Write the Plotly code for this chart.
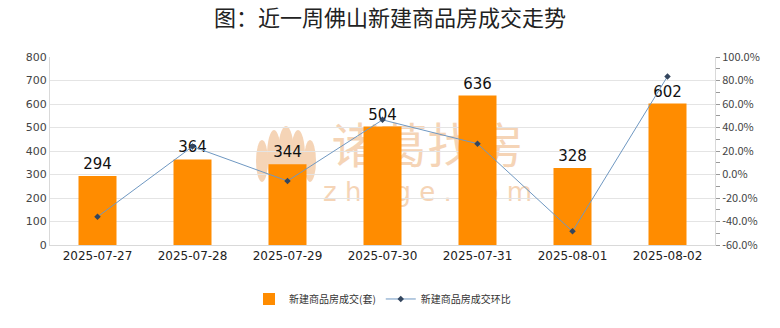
import plotly.graph_objects as go

# Daily new-home sales in Foshan for the last week
dates = ["2025-07-27", "2025-07-28", "2025-07-29", "2025-07-30",
         "2025-07-31", "2025-08-01", "2025-08-02"]
units = [294, 364, 344, 504, 636, 328, 602]
# Day-over-day change, percent
change_pct = [-36.0, 23.8, -5.5, 46.5, 26.2, -48.4, 83.5]

left_ticks = [0, 100, 200, 300, 400, 500, 600, 700, 800]
right_ticks = [-60, -40, -20, 0, 20, 40, 60, 80, 100]
right_labels = [f"{v:.1f}%" for v in right_ticks]

font_cn = "Noto Sans CJK SC, Noto Sans, sans-serif"
W, H = 780, 328
ML, MR, MT, MB = 50, 65, 57, 83
PW, PH = W - ML - MR, H - MT - MB


def px_x(px):
    """Pixel column -> paper x."""
    return (px - ML) / PW


def px_y(py):
    """Pixel row -> paper y."""
    return (H - MB - py) / PH


fig = go.Figure()

fig.add_trace(go.Bar(
    x=dates, y=units, name="新建商品房成交(套)",
    marker=dict(color="#FF8C00", line=dict(width=0)),
    text=[str(v) for v in units], textposition="outside",
    textfont=dict(size=15, color="#111111", family="DejaVu Sans, sans-serif"),
    cliponaxis=False,
    yaxis="y",
))

fig.add_trace(go.Scatter(
    x=dates, y=change_pct, name="新建商品房成交环比",
    mode="lines+markers",
    line=dict(color="#6f98c2", width=1),
    marker=dict(symbol="diamond", size=5, color="#34465e"),
    yaxis="y2",
))

# Brand watermark, kept beneath the bars
wm_color = "#f5d4b6"
shapes = []
shapes.append(dict(
    type="rect", xref="paper", yref="paper", layer="below",
    x0=px_x(320), x1=px_x(535), y0=px_y(175), y1=px_y(125),
    line=dict(width=0), fillcolor="rgba(0,0,0,0)",
    label=dict(text="诸葛找房", textposition="middle center",
               font=dict(size=48, color=wm_color, family=font_cn)),
))
shapes.append(dict(
    type="rect", xref="paper", yref="paper", layer="below",
    x0=px_x(315), x1=px_x(540), y0=px_y(202), y1=px_y(178),
    line=dict(width=0), fillcolor="rgba(0,0,0,0)",
    label=dict(text="z h u g e . c o m", textposition="middle center",
               font=dict(size=26, color=wm_color, family="DejaVu Sans, sans-serif")),
))
# Logo petals
for cx, half_w, top in [(262, 6, 140), (274, 7, 130), (286, 8, 126),
                        (298, 7, 130), (310, 6, 140)]:
    shapes.append(dict(
        type="circle", xref="paper", yref="paper", layer="below",
        x0=px_x(cx - half_w), x1=px_x(cx + half_w),
        y0=px_y(182), y1=px_y(top),
        line=dict(width=0), fillcolor=wm_color,
    ))

fig.update_layout(
    width=W, height=H,
    margin=dict(l=ML, r=MR, t=MT, b=MB),
    paper_bgcolor="white", plot_bgcolor="rgba(0,0,0,0)",
    title=dict(text="图：近一周佛山新建商品房成交走势", x=0.5, xanchor="center",
               y=1 - 18 / H, yanchor="middle",
               font=dict(size=22, color="#222222", family=font_cn)),
    bargap=0.6,
    showlegend=True,
    legend=dict(orientation="h", x=0.5, xanchor="center", y=-0.21, yanchor="top",
                font=dict(size=10, color="#333333", family=font_cn),
                itemwidth=30, traceorder="normal"),
    shapes=shapes,
    xaxis=dict(
        type="category", showgrid=False, ticks="",
        showline=True, linecolor="#d9d9d9", linewidth=1,
        tickfont=dict(size=12, color="#222222", family="DejaVu Sans, sans-serif"),
    ),
    yaxis=dict(
        range=[0, 800], tickvals=left_ticks,
        showgrid=True, gridcolor="#e4e4e4", gridwidth=1,
        showline=True, linecolor="#d9d9d9", linewidth=1,
        zeroline=False, ticks="",
        tickfont=dict(size=11, color="#444444", family="DejaVu Sans, sans-serif"),
    ),
    yaxis2=dict(
        overlaying="y", side="right", range=[-60, 100],
        tickvals=right_ticks, ticktext=right_labels,
        showgrid=False, zeroline=False,
        showline=True, linecolor="#d9d9d9", linewidth=1,
        ticks="outside", ticklen=4, tickcolor="#999999",
        minor=dict(dtick=10, ticks="outside", ticklen=4, tickcolor="#999999"),
        tickfont=dict(size=11, color="#444444", family="Noto Sans CJK JP, sans-serif"),
    ),
)

fig.write_html("out.html")
